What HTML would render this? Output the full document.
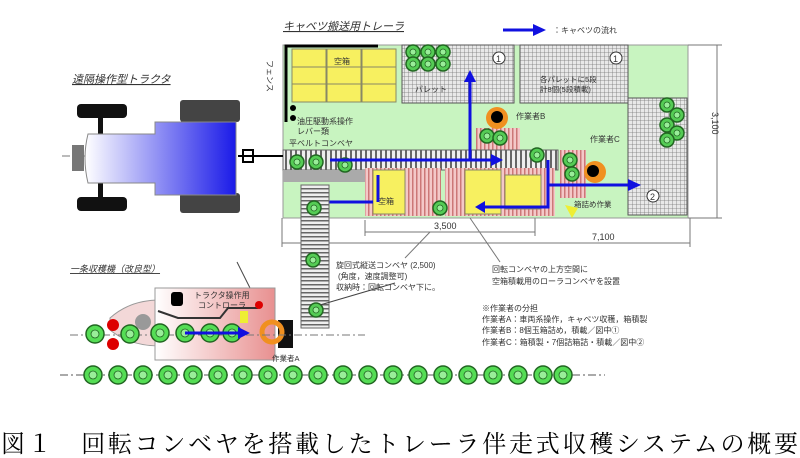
<!DOCTYPE html>
<html><head><meta charset="utf-8"><style>
html,body{margin:0;padding:0;background:#fff;width:800px;height:458px;overflow:hidden}
svg{display:block}
.t{font-family:"Liberation Sans","Noto Sans CJK JP",sans-serif;fill:#333}
</style></head><body>
<svg width="800" height="458" viewBox="0 0 800 458" xmlns="http://www.w3.org/2000/svg">
<defs>
<pattern id="grid" width="4" height="4" patternUnits="userSpaceOnUse"><rect width="4" height="4" fill="#e8e8e8"/><path d="M0 0H4M0 0V4" stroke="#777" stroke-width="0.8"/></pattern>
<pattern id="stripe" width="5" height="10" patternUnits="userSpaceOnUse"><rect width="5" height="10" fill="#eee"/><rect width="2" height="10" fill="#666"/></pattern>
<pattern id="hstripe" width="10" height="4" patternUnits="userSpaceOnUse"><rect width="10" height="4" fill="#eee"/><rect width="10" height="1.5" fill="#666"/></pattern>
<pattern id="pink" width="4" height="10" patternUnits="userSpaceOnUse"><rect width="4" height="10" fill="#f4c8c8"/><rect width="1.5" height="10" fill="#c77"/></pattern>
<linearGradient id="tg" x1="0" x2="1"><stop offset="0" stop-color="#fff"/><stop offset="1" stop-color="#1a1ae8"/></linearGradient>
<linearGradient id="hg" x1="0" x2="1"><stop offset="0" stop-color="#fff"/><stop offset="1" stop-color="#e89090"/></linearGradient>
<g id="cab"><circle r="7" fill="#5c5" stroke="#262" stroke-width="1.5"/><circle r="3" fill="#9e9" stroke="#262" stroke-width="0.8"/></g>
<g id="cab2"><circle r="9" fill="#5d5" stroke="#262" stroke-width="1.5"/><circle r="4" fill="#9e9" stroke="#262" stroke-width="0.8"/></g>
</defs>

<text class="t" x="283" y="30" font-size="11" font-style="italic" text-decoration="underline">キャベツ搬送用トレーラ</text>
<text class="t" x="72" y="83" font-size="11" font-style="italic" text-decoration="underline">遠隔操作型トラクタ</text>
<line x1="503" y1="30" x2="535" y2="30" stroke="#1010e0" stroke-width="3"/>
<polygon points="533,24 546,30 533,36" fill="#1010e0"/>
<text class="t" x="553" y="33" font-size="8">：キャベツの流れ</text>

<rect x="283" y="45" width="405" height="173" fill="#c8f4c0" stroke="#999"/>
<path d="M286 122V46H378" stroke="#000" stroke-width="3" fill="none"/>
<text class="t" x="267" y="60" font-size="8" transform="rotate(90 267 60)">フェンス</text>
<g fill="#f7f060" stroke="#886">
<rect x="292" y="49" width="34" height="18"/><rect x="327" y="49" width="34" height="18"/><rect x="362" y="49" width="34" height="18"/>
<rect x="292" y="67" width="34" height="17"/><rect x="327" y="67" width="34" height="17"/><rect x="362" y="67" width="34" height="17"/>
<rect x="292" y="84" width="34" height="18"/><rect x="327" y="84" width="34" height="18"/><rect x="362" y="84" width="34" height="18"/>
</g>
<text class="t" x="334" y="64" font-size="8">空箱</text>
<circle cx="293" cy="108" r="3" fill="#000"/><circle cx="293" cy="118" r="3" fill="#000"/>
<text class="t" x="297" y="124" font-size="8">油圧駆動系操作</text>
<text class="t" x="297" y="134" font-size="8">レバー類</text>
<text class="t" x="289" y="146" font-size="8">平ベルトコンベヤ</text>

<rect x="402" y="45" width="112" height="58" fill="url(#grid)" stroke="#555"/>
<rect x="520" y="45" width="108" height="58" fill="url(#grid)" stroke="#555"/>
<rect x="628" y="98" width="59" height="117" fill="url(#grid)" stroke="#555"/>
<g><use href="#cab" x="413" y="52"/><use href="#cab" x="428" y="52"/><use href="#cab" x="443" y="52"/><use href="#cab" x="413" y="64"/><use href="#cab" x="428" y="64"/><use href="#cab" x="443" y="64"/>
<use href="#cab" x="667" y="105"/><use href="#cab" x="677" y="115"/><use href="#cab" x="667" y="125"/><use href="#cab" x="677" y="133"/><use href="#cab" x="667" y="140"/></g>
<text class="t" x="415" y="92" font-size="8">パレット</text>
<text class="t" x="540" y="82" font-size="7.5">各パレットに5段</text>
<text class="t" x="540" y="92" font-size="7.5">計8個(5段積載)</text>
<circle cx="499" cy="58" r="6" fill="#fff" stroke="#333"/><text class="t" x="496" y="62" font-size="9">1</text>
<circle cx="616" cy="58" r="6" fill="#fff" stroke="#333"/><text class="t" x="613" y="62" font-size="9">1</text>
<circle cx="653" cy="196" r="6" fill="#fff" stroke="#333"/><text class="t" x="650" y="200" font-size="9">2</text>
<text class="t" x="516" y="119" font-size="8">作業者B</text>
<text class="t" x="590" y="142" font-size="8">作業者C</text>

<rect x="476" y="128" width="44" height="24" fill="url(#pink)"/>
<circle cx="497" cy="118" r="11" fill="#f09020"/><circle cx="497" cy="117" r="6" fill="#000"/>
<use href="#cab" x="487" y="136"/><use href="#cab" x="500" y="138"/>

<rect x="283" y="150" width="275" height="20" fill="url(#stripe)" stroke="#666"/>
<rect x="283" y="170" width="88" height="12" fill="#aaa"/>
<use href="#cab" x="297" y="162"/><use href="#cab" x="316" y="162"/><use href="#cab" x="345" y="165"/><use href="#cab" x="537" y="155"/>
<rect x="365" y="168" width="76" height="48" fill="url(#pink)"/>
<rect x="373" y="170" width="32" height="44" fill="#f7f060" stroke="#886"/>
<text class="t" x="378" y="204" font-size="8">空箱</text>
<rect x="445" y="168" width="110" height="48" fill="url(#pink)"/>
<rect x="465" y="170" width="36" height="44" fill="#f7f060" stroke="#886"/>
<rect x="505" y="175" width="36" height="34" fill="#f7f060" stroke="#886"/>
<use href="#cab" x="440" y="208"/>
<rect x="560" y="150" width="26" height="48" fill="url(#pink)"/>
<use href="#cab" x="570" y="160"/><use href="#cab" x="572" y="174"/>
<circle cx="595" cy="172" r="11" fill="#f09020"/><circle cx="593" cy="171" r="6" fill="#000"/>
<text class="t" x="574" y="207" font-size="7.5">箱詰め作業</text>
<polygon points="565,205 578,208 572,218" fill="#ee3"/>

<g stroke="#1010e0" stroke-width="3" fill="none">
<path d="M330 160H493"/><path d="M470 160V80"/><path d="M373 202H318"/><path d="M378 202V175"/>
<path d="M548 160V207H483"/><path d="M548 185H630"/><path d="M316 318V258"/>
</g>
<g fill="#1010e0">
<polygon points="491,154 503,160 491,166"/><polygon points="464,82 470,70 476,82"/><polygon points="485,201 475,207 485,213"/>
<polygon points="628,179 641,185 628,191"/><polygon points="310,260 316,246 322,260"/>
</g>

<g stroke="#777" fill="none" stroke-width="1">
<line x1="717" y1="45" x2="717" y2="218"/><line x1="688" y1="45" x2="722" y2="45"/><line x1="688" y1="218" x2="722" y2="218"/>
<line x1="365" y1="232" x2="535" y2="232"/><line x1="365" y1="220" x2="365" y2="236"/><line x1="535" y1="218" x2="535" y2="236"/>
<line x1="282" y1="243" x2="690" y2="243"/><line x1="282" y1="218" x2="282" y2="247"/><line x1="690" y1="218" x2="690" y2="247"/>
<line x1="430" y1="232" x2="405" y2="258"/><line x1="470" y1="218" x2="500" y2="262"/>
</g>
<text class="t" x="712" y="112" font-size="9" transform="rotate(90 712 112)">3,100</text>
<text class="t" x="434" y="229" font-size="9">3,500</text>
<text class="t" x="592" y="240" font-size="9">7,100</text>

<line x1="62" y1="156" x2="245" y2="156" stroke="#777" stroke-dasharray="8,3,2,3"/>
<rect x="77" y="104" width="50" height="14" rx="4" fill="#111"/>
<rect x="77" y="197" width="50" height="14" rx="4" fill="#111"/>
<rect x="98" y="116" width="5" height="82" fill="#111"/>
<rect x="180" y="100" width="60" height="22" rx="3" fill="#444"/>
<rect x="180" y="193" width="60" height="20" rx="3" fill="#444"/>
<rect x="72" y="145" width="12" height="26" fill="#777"/>
<path d="M88 134H155V122H236V195H155V183H88Q82 158 88 134Z" fill="url(#tg)" stroke="#888"/>
<line x1="238" y1="156" x2="283" y2="156" stroke="#000" stroke-width="2"/>
<rect x="243" y="150" width="10" height="12" fill="none" stroke="#000" stroke-width="2"/>

<rect x="301" y="185" width="28" height="143" fill="url(#hstripe)" stroke="#666"/>
<use href="#cab" x="314" y="208"/><use href="#cab" x="313" y="260"/><use href="#cab" x="316" y="310"/>
<line x1="320" y1="305" x2="395" y2="283" stroke="#444"/>
<text class="t" x="336" y="268" font-size="8">旋回式縦送コンベヤ (2,500)</text>
<text class="t" x="338" y="279" font-size="8">(角度，速度調整可)</text>
<text class="t" x="336" y="290" font-size="8">収納時：回転コンベヤ下に。</text>
<text class="t" x="492" y="272" font-size="8">回転コンベヤの上方空間に</text>
<text class="t" x="492" y="284" font-size="8">空箱積載用のローラコンベヤを設置</text>
<text class="t" x="482" y="311" font-size="8">※作業者の分担</text>
<text class="t" x="482" y="322" font-size="8">作業者A：車両系操作，キャベツ収穫，箱積製</text>
<text class="t" x="482" y="333" font-size="8">作業者B：8個玉箱詰め，積載／図中①</text>
<text class="t" x="482" y="345" font-size="8">作業者C：箱積製・7個詰箱詰・積載／図中②</text>

<text class="t" x="70" y="272" font-size="9" font-style="italic" text-decoration="underline">一条収穫機（改良型）</text>
<line x1="237" y1="262" x2="255" y2="298" stroke="#444"/>
<path d="M110 318Q130 300 160 300L160 346Q130 346 110 330Z" fill="#f3d8d8" stroke="#999"/>
<rect x="155" y="288" width="120" height="72" fill="url(#hg)" stroke="#999"/>
<rect x="171" y="292" width="12" height="14" rx="3" fill="#000"/>
<text class="t" x="194" y="298" font-size="8" fill="#c00">トラクタ操作用</text>
<text class="t" x="198" y="308" font-size="8" fill="#c00">コントローラ</text>
<path d="M158 311L178 318H220L228 308H258" stroke="#333" stroke-width="2" fill="none"/>
<circle cx="259" cy="305" r="4" fill="#d00"/>
<rect x="240" y="311" width="8" height="12" fill="#ee3"/>
<rect x="278" y="320" width="15" height="28" fill="#111"/>
<circle cx="272" cy="332" r="10" fill="none" stroke="#f09020" stroke-width="5"/>
<circle cx="143" cy="322" r="8" fill="#999"/>
<circle cx="113" cy="325" r="6" fill="#d00"/><circle cx="113" cy="344" r="6" fill="#d00"/>
<line x1="70" y1="335" x2="365" y2="335" stroke="#777" stroke-dasharray="8,3,2,3"/>
<use href="#cab2" x="95" y="334"/><use href="#cab2" x="130" y="334"/><use href="#cab2" x="160" y="333"/><use href="#cab2" x="185" y="333"/><use href="#cab2" x="210" y="333"/><use href="#cab2" x="232" y="333"/>
<line x1="185" y1="333" x2="240" y2="333" stroke="#1010e0" stroke-width="3"/>
<polygon points="238,327 250,333 238,339" fill="#1010e0"/>
<text class="t" x="272" y="361" font-size="7.5">作業者A</text>

<line x1="60" y1="375" x2="605" y2="375" stroke="#555" stroke-dasharray="8,3,2,3"/>
<g>
<use href="#cab2" x="93" y="375"/><use href="#cab2" x="118" y="375"/><use href="#cab2" x="143" y="375"/><use href="#cab2" x="168" y="375"/><use href="#cab2" x="193" y="375"/><use href="#cab2" x="218" y="375"/><use href="#cab2" x="243" y="375"/><use href="#cab2" x="268" y="375"/><use href="#cab2" x="293" y="375"/><use href="#cab2" x="318" y="375"/><use href="#cab2" x="343" y="375"/><use href="#cab2" x="368" y="375"/><use href="#cab2" x="393" y="375"/><use href="#cab2" x="418" y="375"/><use href="#cab2" x="443" y="375"/><use href="#cab2" x="468" y="375"/><use href="#cab2" x="493" y="375"/><use href="#cab2" x="518" y="375"/><use href="#cab2" x="543" y="375"/><use href="#cab2" x="563" y="375"/>
</g>

<text x="1" y="452" font-size="24" textLength="797" lengthAdjust="spacing" font-family="'Liberation Serif','Noto Serif CJK SC',serif" fill="#000">図１　回転コンベヤを搭載したトレーラ伴走式収穫システムの概要</text>
</svg>
</body></html>
